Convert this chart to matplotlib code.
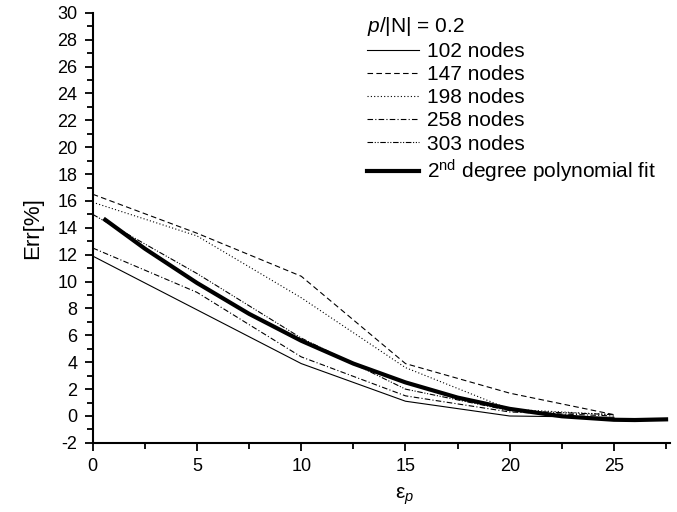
import matplotlib
matplotlib.use("Agg")
import matplotlib.pyplot as plt
from matplotlib.ticker import MultipleLocator

plt.rcParams['font.family'] = ['Liberation Sans', 'DejaVu Sans']
plt.rcParams['mathtext.fontset'] = 'custom'
plt.rcParams['mathtext.rm'] = 'Liberation Sans'
plt.rcParams['mathtext.it'] = 'Liberation Sans:italic'
plt.rcParams['axes.unicode_minus'] = False

# values
eps = [0, 5, 10, 15, 20, 25]
err_102 = [11.9, 7.9, 3.9, 1.1, 0.0, -0.1]
err_147 = [16.5, 13.6, 10.4, 3.9, 1.7, 0.1]
err_198 = [15.9, 13.4, 8.8, 3.6, 0.5, 0.1]
err_258 = [12.5, 9.2, 4.4, 1.5, 0.3, 0.0]
err_303 = [15.0, 10.6, 5.8, 2.0, 0.4, 0.1]

fit_x = [0.6, 2.5, 5, 7.5, 10, 12.5, 15, 17.5, 20, 22.5, 25, 26, 27.5]
fit_y = [14.6, 12.45, 9.9, 7.6, 5.6, 3.9, 2.5, 1.37, 0.53, -0.02, -0.28, -0.3, -0.25]

labels = ['102 nodes', '147 nodes', '198 nodes', '258 nodes', '303 nodes']

fig = plt.figure(figsize=(6.77, 5.12), dpi=100)
ax = fig.add_axes([0.137, 0.135, 0.853, 0.84])

lw = 0.8
ax.plot(eps, err_102, color='black', lw=lw, label=labels[0])
ax.plot(eps, err_147, color='black', lw=lw, dashes=(5, 3), label=labels[1])
ax.plot(eps, err_198, color='black', lw=lw, dashes=(1, 2), label=labels[2])
ax.plot(eps, err_258, color='black', lw=lw, dashes=(5, 2, 1, 2), label=labels[3])
ax.plot(eps, err_303, color='black', lw=lw, dashes=(5, 1.5, 1, 1.5, 1, 1.5), label=labels[4])
ax.plot(fit_x, fit_y, color='black', lw=3, label=r'2$^{\rm nd}$ degree polynomial fit')

ax.set_xlim(0, 27.7)
ax.set_ylim(-2, 30)
ax.xaxis.set_major_locator(MultipleLocator(5))
ax.xaxis.set_minor_locator(MultipleLocator(2.5))
ax.yaxis.set_major_locator(MultipleLocator(2))
ax.yaxis.set_minor_locator(MultipleLocator(1))

for side in ['top', 'right']:
    ax.spines[side].set_visible(False)
for side in ['left', 'bottom']:
    ax.spines[side].set_linewidth(1.5)

ax.tick_params(which='major', direction='out', length=6, width=1.3, labelsize=13, pad=5)
ax.tick_params(which='minor', direction='out', length=4, width=1.3)

ax.set_ylabel('Err[%]', fontsize=16, labelpad=10)
ax.set_xlabel(r'ε$_{p}$', fontsize=15)
ax.xaxis.set_label_coords(0.54, -0.1)

leg = ax.legend(title=r'$\it{p}$/|N| = 0.2', loc='upper left',
                bbox_to_anchor=(0.46, 1.015), frameon=False, fontsize=15,
                title_fontsize=15, handlelength=2.5, handletextpad=0.4,
                labelspacing=0.2, borderaxespad=0)
leg._legend_box.align = 'left'

fig.savefig('out.png', dpi=100)
